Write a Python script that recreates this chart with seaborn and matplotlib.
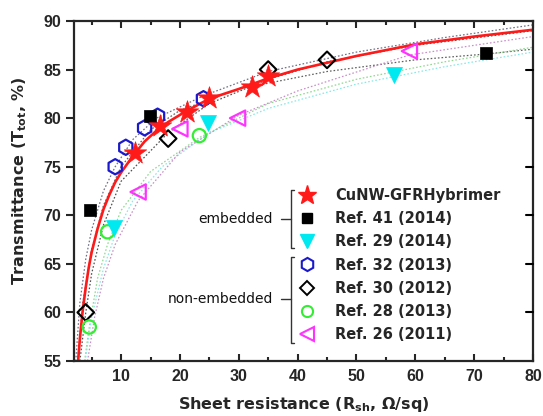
import numpy as np
import pandas as pd
import matplotlib
matplotlib.use("Agg")
import matplotlib.pyplot as plt
import seaborn as sns
from matplotlib.lines import Line2D

# ---- data ----
star_x = [12.4, 16.6, 21.2, 24.9, 32.2, 35.0]
star_y = [76.4, 79.2, 80.6, 82.1, 83.2, 84.3]

ref41_x = [4.8, 14.9, 72.0]
ref41_y = [70.5, 80.2, 86.7]

ref29_x = [8.8, 24.8, 56.3]
ref29_y = [68.7, 79.5, 84.4]

ref32_x = [9.0, 10.8, 14.0, 16.2, 24.0]
ref32_y = [75.0, 77.0, 79.0, 80.2, 82.0]

ref30_x = [4.0, 18.0, 35.0, 45.0]
ref30_y = [60.0, 77.9, 85.0, 86.0]

ref28_x = [4.6, 7.7, 23.3]
ref28_y = [58.5, 68.3, 78.2]

ref26_x = [12.9, 20.0, 29.8, 59.0]
ref26_y = [72.4, 78.9, 80.0, 86.9]

# fitted curves
fit_red_x = [2.7, 3.0, 3.5, 4.0, 4.5, 5.0, 6.0, 7.0, 8.0, 9.0, 10, 12, 14, 16, 18, 21, 25, 30, 35, 40, 50, 60, 70, 80]
fit_red_y = [55, 57.3, 60.3, 62.6, 64.6, 66.2, 68.6, 70.6, 72.1, 73.4, 74.4, 76.1, 77.6, 78.7, 79.6, 80.7, 82.0, 83.0, 84.1, 85.0, 86.4, 87.6, 88.4, 89.1]

fit32_x = [2.3, 3.0, 4.0, 5.0, 7.0, 9.0, 12, 16, 24, 35, 50, 65, 80]
fit32_y = [55, 61, 65.5, 68.5, 72.5, 75.0, 77.8, 80.0, 82.3, 84.8, 86.8, 88.3, 89.6]

fit41_x = [2.6, 3.5, 5.0, 7.0, 10, 15, 20, 30, 45, 60, 72, 80]
fit41_y = [55, 61, 66.5, 71.0, 75.0, 78.8, 80.8, 83.0, 84.8, 86.0, 86.6, 87.1]

fit30_x = [3.0, 4.0, 5.0, 7.0, 10, 18, 25, 35, 45, 60, 80]
fit30_y = [55, 60, 64, 69, 73.5, 78.5, 81.5, 84.0, 85.8, 87.5, 89.0]

fit28_x = [3.8, 4.6, 6.0, 7.7, 10, 15, 23.3, 35, 50, 65, 80]
fit28_y = [55, 58.5, 63.5, 67, 70.5, 74.5, 78.0, 81.5, 84.0, 85.8, 87.3]

fit29_x = [3.9, 5.0, 7.0, 9.0, 12, 17, 25, 35, 50, 65, 80]
fit29_y = [55, 59.5, 64.5, 68, 71.5, 75, 78.5, 81, 83.5, 85.3, 86.8]

fit26_x = [4.3, 5.5, 7.0, 9.0, 12.9, 20, 30, 40, 59, 80]
fit26_y = [55, 59.5, 63.5, 67, 71.5, 76.5, 80.3, 82.8, 86.5, 88.4]

labels = ["CuNW-GFRHybrimer", "Ref. 41 (2014)", "Ref. 29 (2014)", "Ref. 32 (2013)",
          "Ref. 30 (2012)", "Ref. 28 (2013)", "Ref. 26 (2011)"]

x_ticks = [10, 20, 30, 40, 50, 60, 70, 80]
y_ticks = [55, 60, 65, 70, 75, 80, 85, 90]

# ---- style ----
sns.set_style("ticks")
plt.rcParams["font.family"] = ["Liberation Sans", "DejaVu Sans"]
plt.rcParams["font.weight"] = "bold"
plt.rcParams["mathtext.fontset"] = "custom"
plt.rcParams["mathtext.bf"] = "DejaVu Sans:bold"
plt.rcParams["mathtext.rm"] = "DejaVu Sans:bold"

fig = plt.figure(figsize=(5.43, 4.16), dpi=100)
ax = fig.add_axes([74 / 543, 1 - 361 / 416, 459 / 543, 340 / 416])

RED = "#ff1a1a"
MAG = "#ff33ff"
GRN = "#33ee33"
CYA = "#00e8f0"
BLU = "#1a1acc"

# dotted fits
fits = [
    (fit32_x, fit32_y, "#707088"),
    (fit41_x, fit41_y, "#606060"),
    (fit30_x, fit30_y, "#505050"),
    (fit28_x, fit28_y, "#90d890"),
    (fit29_x, fit29_y, "#88e8e8"),
    (fit26_x, fit26_y, "#c890c8"),
]
for fx_, fy_, c in fits:
    df = pd.DataFrame({"x": fx_, "y": fy_})
    sns.lineplot(data=df, x="x", y="y", ax=ax, color=c, lw=0.9, linestyle=(0, (1.3, 1.6)),
                 sort=False, estimator=None, zorder=1)

dfr = pd.DataFrame({"x": fit_red_x, "y": fit_red_y})
sns.lineplot(data=dfr, x="x", y="y", ax=ax, color=RED, lw=1.9, sort=False, estimator=None, zorder=2)

def pts(xs, ys, marker, size, face, edge, ew, z=3):
    df = pd.DataFrame({"x": xs, "y": ys})
    sns.scatterplot(data=df, x="x", y="y", ax=ax, marker=marker, s=size ** 2,
                    facecolor=face, edgecolor=edge, linewidth=ew, zorder=z)

pts(ref32_x, ref32_y, "h", 11, "none", BLU, 1.6)
pts(ref30_x, ref30_y, "D", 8.5, "none", "black", 1.5)
pts(ref28_x, ref28_y, "o", 9.5, "none", GRN, 1.6)
pts(ref26_x, ref26_y, "<", 11, "none", MAG, 1.6)
pts(ref41_x, ref41_y, "s", 8.5, "black", "black", 0.5)
pts(ref29_x, ref29_y, "v", 11.5, CYA, CYA, 0.5)
pts(star_x, star_y, "*", 17, RED, RED, 0.5, z=4)

ax.set_xlim(2, 80)
ax.set_ylim(55, 90)
ax.set_xticks(x_ticks)
ax.set_yticks(y_ticks)
ax.set_xticks(np.arange(5, 80, 10), minor=True)
ax.tick_params(axis="x", which="major", direction="in", length=5, width=1.5, top=True,
               labelsize=11.5, pad=6)
ax.tick_params(axis="x", which="minor", direction="in", length=3, width=1.5, top=True)
ax.tick_params(axis="y", which="major", direction="out", length=6, width=1.5, labelsize=11.5, pad=3)
for lab in ax.get_xticklabels() + ax.get_yticklabels():
    lab.set_fontweight("bold")
for sp in ax.spines.values():
    sp.set_linewidth(1.6)
    sp.set_visible(True)
# right inward ticks
for yv in y_ticks[1:-1]:
    ax.plot([1, 0.985], [(yv - 55) / 35] * 2, transform=ax.transAxes, color="black", lw=1.5,
            clip_on=False, zorder=5)

ax.set_xlabel(r"Sheet resistance (R$_{\mathbf{sh}}$, $\mathbf{\Omega}$/sq)", fontsize=11.5,
              fontweight="bold", family="DejaVu Sans", labelpad=8)
ax.set_ylabel(r"Transmittance (T$_{\mathbf{tot}}$, %)", fontsize=11.5, fontweight="bold",
              family="DejaVu Sans")
ax.yaxis.set_label_coords(-0.098, 0.53)

# legend
handles = [
    Line2D([], [], ls="none", marker="*", ms=14, mfc=RED, mec=RED),
    Line2D([], [], ls="none", marker="s", ms=7, mfc="black", mec="black"),
    Line2D([], [], ls="none", marker="v", ms=9.5, mfc=CYA, mec=CYA),
    Line2D([], [], ls="none", marker="h", ms=9.5, mfc="none", mec=BLU, mew=1.5),
    Line2D([], [], ls="none", marker="D", ms=7, mfc="none", mec="black", mew=1.4),
    Line2D([], [], ls="none", marker="o", ms=8, mfc="none", mec=GRN, mew=1.5),
    Line2D([], [], ls="none", marker="<", ms=9.5, mfc="none", mec=MAG, mew=1.5),
]
leg = ax.legend(handles, labels, loc="upper left", bbox_to_anchor=(300 / 543, 1 - 188 / 416),
                bbox_transform=fig.transFigure, frameon=False, handlelength=1.0,
                handletextpad=1.4, labelspacing=0.56, borderpad=0, borderaxespad=0,
                prop={"family": "DejaVu Sans", "weight": "bold", "size": 10.5})

# brackets
def fx(px):
    return px / 543
def fy(py):
    return 1 - py / 416
def bracket(top, bot, mid):
    xv = 290.5
    fig.add_artist(Line2D([fx(xv + 3), fx(xv), fx(xv), fx(xv + 3)], [fy(top), fy(top), fy(bot), fy(bot)],
                          color="#333333", lw=1.0))
    fig.add_artist(Line2D([fx(281), fx(xv)], [fy(mid), fy(mid)], color="#333333", lw=1.0))
bracket(190, 248, 219)
bracket(257, 343, 299)
fig.text(fx(273), fy(219), "embedded", ha="right", va="center", fontsize=10,
         family="DejaVu Sans", fontweight="normal", color="#111111")
fig.text(fx(273), fy(299), "non-embedded", ha="right", va="center", fontsize=10,
         family="DejaVu Sans", fontweight="normal", color="#111111")

fig.savefig("out.png", dpi=100)
